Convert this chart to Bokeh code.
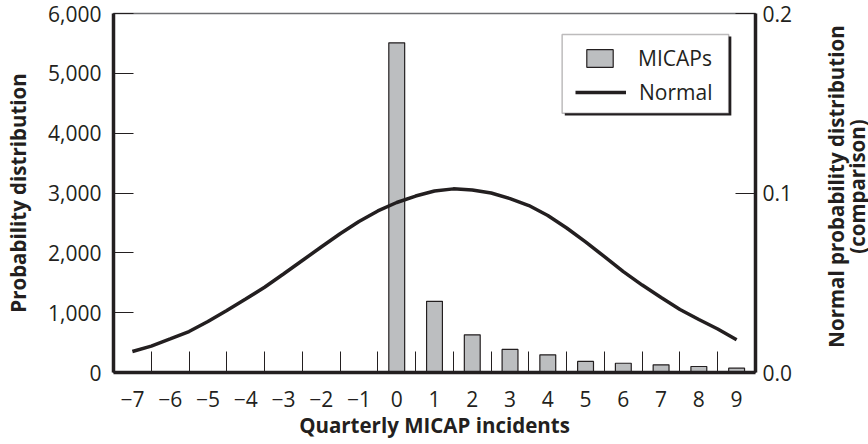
import math
from bokeh.plotting import figure
from bokeh.layouts import row
from bokeh.core.properties import value
from bokeh.models import (Range1d, LinearAxis, FixedTicker, NumeralTickFormatter,
                          Legend, LegendItem, BoxAnnotation)
from bokeh.embed import file_html
from bokeh.resources import INLINE

# ---- data ----
categories = [-7, -6, -5, -4, -3, -2, -1, 0, 1, 2, 3, 4, 5, 6, 7, 8, 9]
category_labels = ["\u22127", "\u22126", "\u22125", "\u22124", "\u22123", "\u22122", "\u22121",
                   "0", "1", "2", "3", "4", "5", "6", "7", "8", "9"]
bin_edges = [-6.5, -5.5, -4.5, -3.5, -2.5, -1.5, -0.5, 0.5, 1.5, 2.5, 3.5, 4.5, 5.5, 6.5, 7.5, 8.5]

micap_x = [0, 1, 2, 3, 4, 5, 6, 7, 8, 9]
micap_count = [5510, 1190, 630, 385, 295, 185, 155, 128, 100, 72]

normal_x = [-7, -6.5, -6, -5.5, -5, -4.5, -4, -3.5, -3, -2.5, -2, -1.5, -1, -0.5, 0, 0.5, 1,
            1.5, 2, 2.5, 3, 3.5, 4, 4.5, 5, 5.5, 6, 6.5, 7, 7.5, 8, 8.5, 9]
normal_p = [0.0117, 0.0147, 0.0187, 0.0228, 0.0284, 0.0345, 0.0409, 0.0475, 0.0549, 0.0624,
            0.0699, 0.0773, 0.0841, 0.0900, 0.0947, 0.0983, 0.1011, 0.1023, 0.1017, 0.1000,
            0.0969, 0.0930, 0.0875, 0.0805, 0.0728, 0.0645, 0.0562, 0.0487, 0.0418, 0.0351,
            0.0295, 0.0242, 0.0182]

left_ticks = [0, 1000, 2000, 3000, 4000, 5000, 6000]
right_ticks = [0.0, 0.1, 0.2]
right_labels = ["0.0", "0.1", "0.2"]
right_title = ["Normal probability distribution", "(comparison)"]

INK = "#231f20"
BAR = "#bcbec0"
FONT = "Open Sans"
TITLE_SIZE = "20.5px"

MAIN_W, SIDE_W, H = 815, 53, 444

p = figure(width=MAIN_W, height=H, output_backend="svg", toolbar_location=None,
           x_range=Range1d(-7.5, 9.5), y_range=Range1d(0, 6000),
           min_border_left=113, min_border_right=60, min_border_top=13, min_border_bottom=72)
p.extra_y_ranges = {"norm": Range1d(0, 0.2)}
p.grid.visible = False
p.outline_line_color = "#6d6e71"
p.outline_line_width = 1.5
p.background_fill_color = "white"
p.border_fill_color = "white"

bars = p.vbar(x=micap_x, top=micap_count, width=0.42, fill_color=BAR,
              line_color=INK, line_width=1.2)
curve = p.line(x=normal_x, y=normal_p, y_range_name="norm", line_color=INK, line_width=3.5)

# bottom axis
xa = p.xaxis[0]
xa.ticker = FixedTicker(ticks=categories, minor_ticks=bin_edges)
xa.major_label_overrides = {c: l for c, l in zip(categories, category_labels)}
xa.major_tick_line_color = None
xa.minor_tick_in = 21
xa.minor_tick_out = 0
xa.minor_tick_line_color = INK
xa.minor_tick_line_width = 1
xa.axis_label = "Quarterly MICAP incidents"
xa.major_label_standoff = 12
xa.axis_label_standoff = 1

# left axis
ya = p.yaxis[0]
ya.ticker = FixedTicker(ticks=left_ticks)
ya.formatter = NumeralTickFormatter(format="0,0")
ya.major_tick_in = 20
ya.major_tick_out = 0
ya.minor_tick_line_color = None
ya.axis_label = "Probability distribution"
ya.major_label_standoff = 12
ya.axis_label_standoff = 13

# right axis
ra = LinearAxis(y_range_name="norm", ticker=FixedTicker(ticks=right_ticks))
ra.major_label_overrides = {t: l for t, l in zip(right_ticks, right_labels)}
ra.major_tick_in = 20
ra.major_tick_out = 0
ra.minor_tick_line_color = None
ra.major_label_standoff = 7
p.add_layout(ra, "right")

for ax in [xa, ya, ra]:
    ax.axis_line_color = INK
    ax.axis_line_width = 3.5
    ax.major_tick_line_width = 1
    if ax is not xa:
        ax.major_tick_line_color = INK
    ax.major_label_text_font = FONT
    ax.major_label_text_font_size = "21px"
    ax.major_label_text_color = INK
    ax.axis_label_text_font = FONT
    ax.axis_label_text_font_size = TITLE_SIZE
    ax.axis_label_text_font_style = "bold"
    ax.axis_label_text_color = INK

# legend frame with shadow
shadow = BoxAnnotation(left=4.45, right=8.86, bottom=4296, top=5615,
                       fill_color=INK, fill_alpha=1, line_color=None)
box = BoxAnnotation(left=4.38, right=8.79, bottom=4334, top=5649,
                    fill_color="white", fill_alpha=1, line_color=INK, line_width=1.5)
p.add_layout(shadow)
p.add_layout(box)

leg1 = Legend(items=[LegendItem(label="MICAPs", renderers=[bars])], location=(470, 300),
              glyph_width=33, glyph_height=22, label_standoff=22)
leg2 = Legend(items=[LegendItem(label="Normal", renderers=[curve])], location=(462, 266),
              glyph_width=51, glyph_height=20, label_standoff=13)
for lg in [leg1, leg2]:
    lg.padding = 0
    lg.margin = 0
    lg.border_line_color = None
    lg.background_fill_alpha = 0
    lg.label_text_font = FONT
    lg.label_text_font_size = "21px"
    lg.label_text_color = INK
    p.add_layout(lg, "center")

# side strip carrying the right-hand axis title (reads bottom-to-top)
q = figure(width=SIDE_W, height=H, output_backend="svg", toolbar_location=None,
           x_axis_type=None, y_axis_type=None,
           x_range=Range1d(0, SIDE_W), y_range=Range1d(0, H),
           min_border=0, min_border_left=0, min_border_right=0,
           min_border_top=0, min_border_bottom=0)
q.grid.visible = False
q.outline_line_color = None
q.background_fill_color = "white"
q.border_fill_color = "white"
q.text(x=[20, 41], y=[230, 230], text=right_title, angle=math.pi / 2,
       text_align="center", text_baseline="middle",
       text_font=value(FONT), text_font_size=TITLE_SIZE, text_font_style="bold",
       text_color=INK)

layout = row(p, q, spacing=0)
open("out.html", "w").write(file_html(layout, INLINE))
